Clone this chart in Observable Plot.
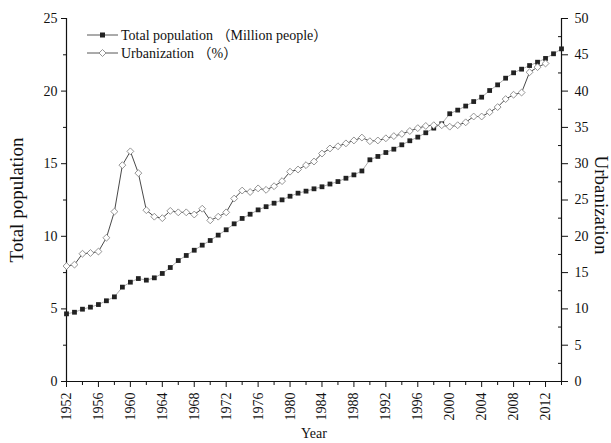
<!DOCTYPE html>
<html>
<head>
<meta charset="utf-8">
<script src="https://cdn.jsdelivr.net/npm/d3@7"></script>
<script src="https://cdn.jsdelivr.net/npm/@observablehq/plot@0.6"></script>
<style>
  html, body { margin: 0; padding: 0; background: #fff; }
  #chart { width: 611px; height: 443px; }
  svg { font-family: 'Liberation Serif', 'Times New Roman', serif; }
</style>
</head>
<body>
<div id="chart"></div>
<script>
const popYears = d3.range(1952, 2015);
const population = [4.66, 4.77, 4.98, 5.12, 5.30, 5.56, 5.83, 6.50, 6.84, 7.09, 6.98, 7.14, 7.44,
  7.85, 8.33, 8.68, 9.04, 9.39, 9.71, 10.08, 10.45, 10.86, 11.23, 11.52, 11.82, 12.04,
  12.28, 12.51, 12.76, 12.97, 13.11, 13.27, 13.41, 13.60, 13.77, 14.00, 14.23, 14.50,
  15.27, 15.50, 15.77, 16.00, 16.30, 16.58, 16.83, 17.13, 17.45, 17.75,
  18.44, 18.69, 18.97, 19.28, 19.58, 20.04, 20.43, 20.89, 21.26, 21.51, 21.76, 21.99, 22.25, 22.57, 22.91];
const urbYears = d3.range(1952, 2013);
const urbanization = [15.9, 16.1, 17.6, 17.7, 17.9, 19.8, 23.4, 29.8, 31.7, 28.7, 23.6, 22.7, 22.5,
  23.5, 23.3, 23.3, 23.0, 23.8, 22.2, 22.7, 23.3, 25.2, 26.3, 26.1, 26.6, 26.4,
  26.9, 27.6, 28.9, 29.2, 29.8, 30.3, 31.4, 32.1, 32.4, 32.8, 33.2, 33.6,
  33.1, 33.2, 33.5, 33.8, 34.1, 34.5, 34.9, 35.2, 35.3, 35.3,
  35.1, 35.3, 35.7, 36.5, 36.5, 37.1, 37.8, 38.9, 39.5, 39.8, 42.6, 43.3, 43.8];
const xTicks = d3.range(1952, 2013, 4);
const xMinor = d3.range(1954, 2015, 4);
const leftTicks = d3.range(0, 26, 5);
const leftMinor = d3.range(2.5, 25, 5);
const rightTicks = d3.range(0, 51, 5);
const rightMinor = d3.range(2.5, 50, 5);
const legendLabels = ["Total population （Million people）", "Urbanization （%）"];

const popData = popYears.map((y, i) => ({year: y, value: population[i]}));
const urbData = urbYears.map((y, i) => ({year: y, value: urbanization[i]}));
const ratio = 2; // right axis 0-50 maps onto left 0-25
const serif = "'Liberation Serif', 'Times New Roman', serif";

const plot = Plot.plot({
  width: 611,
  height: 443,
  marginLeft: 66,
  marginRight: 50,
  marginTop: 18,
  marginBottom: 62,
  style: {fontFamily: serif, fontSize: "13px", color: "#111", background: "#fff"},
  x: {domain: [1952, 2014]},
  y: {domain: [0, 25]},
  marks: [
    Plot.axisY({ticks: leftTicks, tickSize: 5, tickPadding: 4, fontSize: 14, tickFormat: d => d, label: null}),
    Plot.axisY({ticks: leftMinor, tickSize: 3, tickFormat: () => "", label: null}),
    Plot.axisY({anchor: "right", ticks: rightTicks.map(v => v / ratio), tickSize: 6, tickPadding: 7, fontSize: 14, tickFormat: d => d * ratio, label: null}),
    Plot.axisY({anchor: "right", ticks: rightMinor.map(v => v / ratio), tickSize: -4, tickFormat: () => "", label: null}),
    Plot.axisX({ticks: xTicks, tickSize: 6, tickPadding: 5, tickRotate: -90, fontSize: 14, tickFormat: d => String(d), label: null}),
    Plot.axisX({ticks: xMinor, tickSize: 4, tickFormat: () => "", label: null}),
    Plot.ruleX([1952], {y1: 0, y2: 25, stroke: "#111", strokeWidth: 1.2}),
    Plot.ruleX([2014], {y1: 0, y2: 25, stroke: "#111", strokeWidth: 1.2}),
    Plot.ruleY([0], {stroke: "#111", strokeWidth: 1.2}),
    Plot.line(popData, {x: "year", y: "value", stroke: "#999", strokeWidth: 0.8}),
    Plot.line(urbData, {x: "year", y: d => d.value / ratio, stroke: "#333", strokeWidth: 0.9}),
    Plot.dot(popData, {x: "year", y: "value", symbol: "square", r: 2.7, fill: "#222", stroke: "none"}),
    Plot.dot(urbData, {x: "year", y: d => d.value / ratio, symbol: "diamond2", r: 3.1, fill: "#fff", stroke: "#888", strokeWidth: 0.9}),
    Plot.text(["Year"], {frameAnchor: "bottom", dy: 56, fontSize: 14, fill: "#111"}),
    Plot.text(["Total population"], {frameAnchor: "left", textAnchor: "middle", rotate: -90, dx: -50, fontSize: 19, fill: "#111"}),
    Plot.text(["Urbanization"], {frameAnchor: "right", textAnchor: "middle", rotate: 90, dx: 40, dy: 5, fontSize: 19, fill: "#111"})
  ]
});
document.getElementById("chart").appendChild(plot);

// legend
const svg = d3.select(plot);
const lg = svg.append("g")
  .attr("font-family", "'Liberation Serif', 'Noto Sans CJK SC', serif")
  .attr("font-size", 14).attr("fill", "#111").attr("text-anchor", "start");
const ys = [35, 53];
legendLabels.forEach((label, i) => {
  const y = ys[i];
  lg.append("line").attr("x1", 87).attr("x2", 118).attr("y1", y).attr("y2", y).attr("stroke", "#444").attr("stroke-width", 0.9);
  if (i === 0) {
    lg.append("rect").attr("x", 100).attr("y", y - 2.5).attr("width", 5).attr("height", 5).attr("fill", "#222");
  } else {
    lg.append("path").attr("d", `M102.5,${y-3.5}L106,${y}L102.5,${y+3.5}L99,${y}Z`).attr("fill", "#fff").attr("stroke", "#888").attr("stroke-width", 0.9);
  }
  lg.append("text").attr("x", 121).attr("y", y).attr("dy", "0.35em").attr("text-anchor", "start").text(label);
});
</script>
</body>
</html>
